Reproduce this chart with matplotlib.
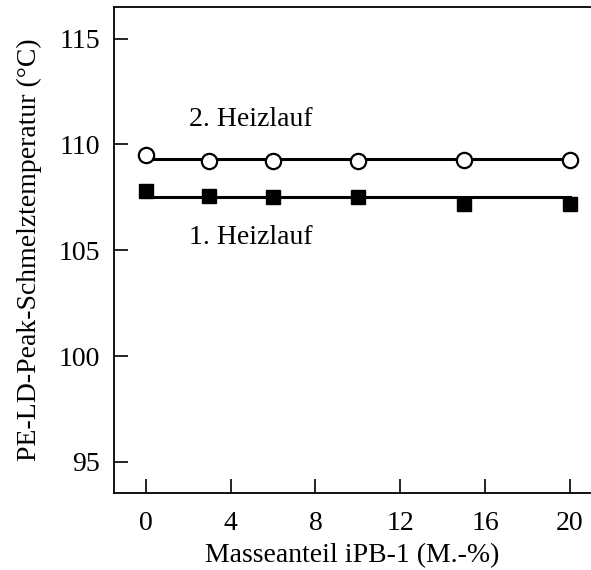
import matplotlib
matplotlib.use("Agg")
import matplotlib.pyplot as plt
import numpy as np

plt.rcParams['font.family'] = ['Liberation Serif', 'DejaVu Serif']

mass_fraction = [0, 3, 6, 10, 15, 20]
heating_2 = [109.5, 109.22, 109.2, 109.2, 109.25, 109.27]
heating_1 = [107.82, 107.55, 107.5, 107.5, 107.2, 107.2]
fit_2 = 109.32
fit_1 = 107.52
x_ticks = [0, 4, 8, 12, 16, 20]
y_ticks = [95, 100, 105, 110, 115]

fs = 20

fig = plt.figure(figsize=(5.91, 5.70), dpi=100)
ax = fig.add_axes([0.193, 0.135, 0.807, 0.853])

ax.plot([mass_fraction[0], mass_fraction[-1]], [fit_2, fit_2], color='black', lw=2.2, zorder=2)
ax.plot([mass_fraction[0], mass_fraction[-1]], [fit_1, fit_1], color='black', lw=2.2, zorder=2)
ax.plot(mass_fraction, heating_2, linestyle='none', marker='o', ms=11,
        mfc='white', mec='black', mew=1.6, zorder=3)
ax.plot(mass_fraction, heating_1, linestyle='none', marker='s', ms=10.5,
        mfc='black', mec='black', zorder=3)

ax.text(2.05, 110.87, '2. Heizlauf', fontsize=fs, va='baseline', ha='left')
ax.text(2.05, 105.28, '1. Heizlauf', fontsize=fs, va='baseline', ha='left')

ax.set_xlim(-1.5, 21.0)
ax.set_ylim(93.53, 116.5)
ax.set_xticks(x_ticks)
ax.set_yticks(y_ticks)
ax.tick_params(direction='in', length=10, width=1.2, labelsize=fs)
ax.tick_params(axis='x', pad=13)
ax.tick_params(axis='y', pad=10)
ax.spines['right'].set_visible(False)
for s in ['left', 'bottom', 'top']:
    ax.spines[s].set_linewidth(1.3)

ax.set_xlabel('Masseanteil iPB-1 (M.-%)', fontsize=fs, labelpad=5)
ax.set_ylabel('PE-LD-Peak-Schmelztemperatur (°C)', fontsize=fs, labelpad=12)

fig.savefig('out.png', dpi=100)
